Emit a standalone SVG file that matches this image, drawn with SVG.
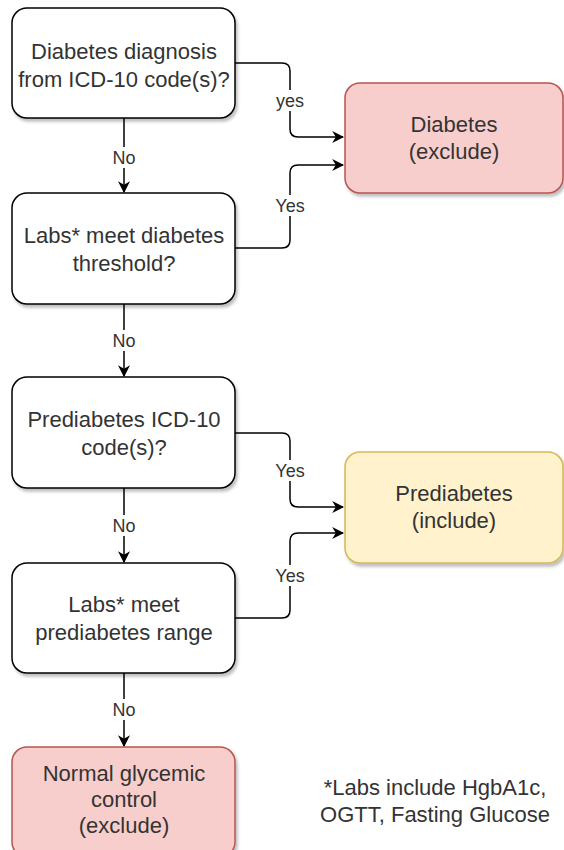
<svg xmlns="http://www.w3.org/2000/svg" width="564" height="850" viewBox="0 0 564 850">
<style>
.box{stroke:#000;stroke-width:1.5;fill:#fff;filter:url(#sh)}
.red{fill:#f8cecc;stroke:#b85450}
.yel{fill:#fff2cc;stroke:#d6b656}
.t{font-family:"Liberation Sans",Arial,sans-serif;font-size:22px;fill:#333;text-anchor:middle}
.l{font-family:"Liberation Sans",Arial,sans-serif;font-size:18px;fill:#333;text-anchor:middle}
.e{fill:none;stroke:#000;stroke-width:1.5;marker-end:url(#arr)}
.lb{fill:#fff;stroke:none}
</style>
<defs>
<filter id="sh" x="-10%" y="-10%" width="130%" height="130%">
<feDropShadow dx="2" dy="3" stdDeviation="1.5" flood-color="#000" flood-opacity="0.25"/>
</filter>
<marker id="arr" viewBox="0 0 10 10" refX="9" refY="5" markerWidth="12" markerHeight="12" markerUnits="userSpaceOnUse" orient="auto">
<path d="M0,0 L10,5 L0,10 L3,5 Z" fill="#000"/>
</marker>
</defs>
<g id="connectors">
<path class="e" d="M235,63 L282,63 Q290,63 290,71 L290,129 Q290,137 298,137 L343,137"/>
<path class="e" d="M235,248 L282,248 Q290,248 290,240 L290,173 Q290,165 298,165 L343,165"/>
<path class="e" d="M235,433 L282,433 Q290,433 290,441 L290,499 Q290,507 298,507 L343,507"/>
<path class="e" d="M235,618 L282,618 Q290,618 290,610 L290,541 Q290,533 298,533 L343,533"/>
<path class="e" d="M124,118 L124,192"/>
<path class="e" d="M124,304 L124,376"/>
<path class="e" d="M124,488 L124,562"/>
<path class="e" d="M124,673 L124,746"/>
<rect class="lb" x="274" y="90" width="32" height="21"/>
<text class="l" x="290" y="107">yes</text>
<rect class="lb" x="272" y="195" width="36" height="21"/>
<text class="l" x="290" y="212">Yes</text>
<rect class="lb" x="272" y="460" width="36" height="21"/>
<text class="l" x="290" y="477">Yes</text>
<rect class="lb" x="272" y="565" width="36" height="21"/>
<text class="l" x="290" y="582">Yes</text>
<rect class="lb" x="109" y="147" width="30" height="21"/>
<text class="l" x="124" y="164">No</text>
<rect class="lb" x="109" y="330" width="30" height="21"/>
<text class="l" x="124" y="347">No</text>
<rect class="lb" x="109" y="515" width="30" height="21"/>
<text class="l" x="124" y="532">No</text>
<rect class="lb" x="109" y="699" width="30" height="21"/>
<text class="l" x="124" y="716">No</text>
</g>
<g id="n1">
<rect class="box" x="12" y="8" width="223" height="110" rx="15"/>
<text class="t" x="124" y="59">Diabetes diagnosis</text>
<text class="t" x="124" y="87">from ICD-10 code(s)?</text>
</g>
<g id="n2">
<rect class="box" x="12" y="193" width="223" height="111" rx="15"/>
<text class="t" x="124" y="243">Labs* meet diabetes</text>
<text class="t" x="124" y="271">threshold?</text>
</g>
<g id="n3">
<rect class="box" x="12" y="377" width="223" height="111" rx="15"/>
<text class="t" x="124" y="427">Prediabetes ICD-10</text>
<text class="t" x="124" y="455">code(s)?</text>
</g>
<g id="n4">
<rect class="box" x="12" y="563" width="223" height="110" rx="15"/>
<text class="t" x="124" y="612">Labs* meet</text>
<text class="t" x="124" y="640">prediabetes range</text>
</g>
<g id="n5">
<rect class="box red" x="12" y="747" width="223" height="110" rx="15"/>
<text class="t" x="124" y="781">Normal glycemic</text>
<text class="t" x="124" y="807">control</text>
<text class="t" x="124" y="833">(exclude)</text>
</g>
<g id="diabetes">
<rect class="box red" x="345" y="83" width="218" height="110" rx="15"/>
<text class="t" x="454" y="132">Diabetes</text>
<text class="t" x="454" y="159">(exclude)</text>
</g>
<g id="prediabetes">
<rect class="box yel" x="345" y="452" width="218" height="111" rx="15"/>
<text class="t" x="454" y="501">Prediabetes</text>
<text class="t" x="454" y="528">(include)</text>
</g>
<g id="note">
<text class="t" x="435" y="795">*Labs include HgbA1c,</text>
<text class="t" x="435" y="822">OGTT, Fasting Glucose</text>
</g>
</svg>
